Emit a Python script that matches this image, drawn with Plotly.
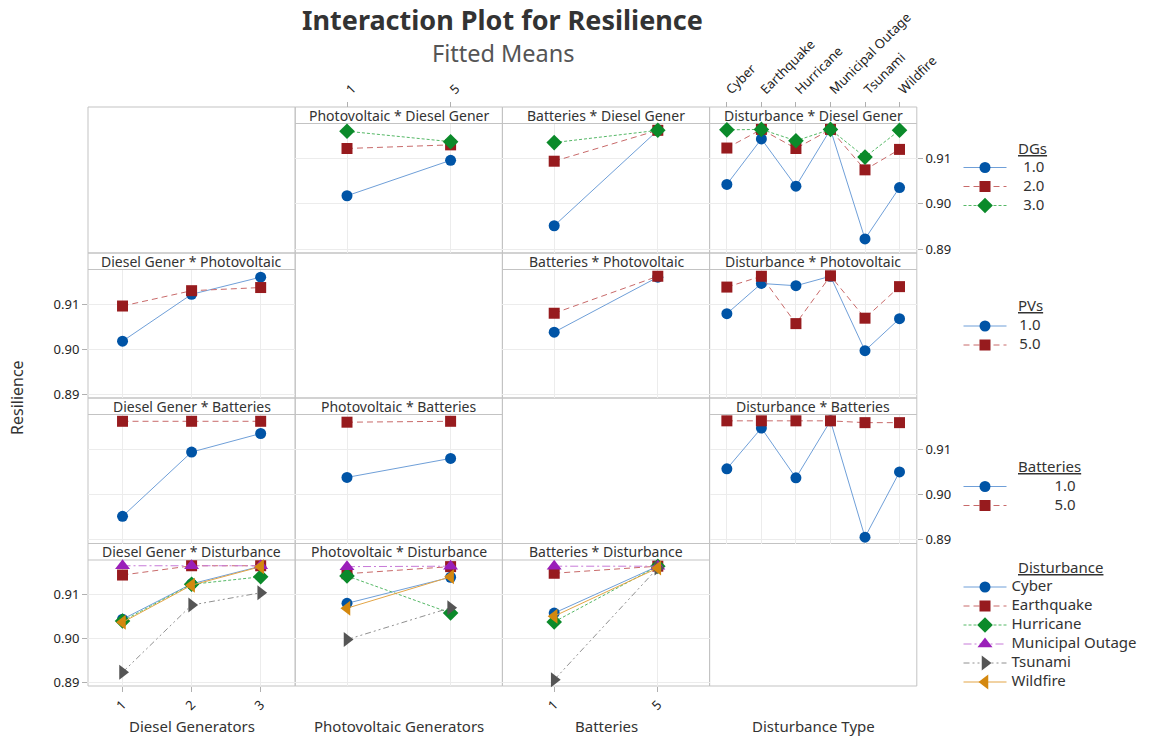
import plotly.graph_objects as go

W, H = 1153, 738
FONT = "Segoe UI, Noto Sans, sans-serif"

# ---- factor levels -------------------------------------------------------
DG_LEVELS = ["1", "2", "3"]
PV_LEVELS = ["1", "5"]
BAT_LEVELS = ["1", "5"]
DISTURBANCES = ["Cyber", "Earthquake", "Hurricane", "Municipal Outage", "Tsunami", "Wildfire"]

DG_NAMES = ["1.0", "2.0", "3.0"]
PV_NAMES = ["1.0", "5.0"]
BAT_NAMES = ["1.0", "5.0"]

# ---- fitted means of Resilience for each two-way combination -------------
# rows: DG level, columns: PV level
DG_PV = [[0.9018, 0.9096],
         [0.9122, 0.9130],
         [0.9160, 0.9137]]
# rows: DG level, columns: battery level
DG_BAT = [[0.8952, 0.9162],
          [0.9094, 0.9162],
          [0.9135, 0.9162]]
# rows: PV level, columns: battery level
PV_BAT = [[0.9038, 0.9160],
          [0.9080, 0.9162]]
# rows: disturbance, columns: DG level
DIST_DG = [[0.9043, 0.9123, 0.9163],
           [0.9143, 0.9164, 0.9164],
           [0.9039, 0.9122, 0.9139],
           [0.9164, 0.9164, 0.9164],
           [0.8923, 0.9075, 0.9103],
           [0.9036, 0.9120, 0.9162]]
# rows: disturbance, columns: PV level
DIST_PV = [[0.9079, 0.9138],
           [0.9146, 0.9162],
           [0.9141, 0.9057],
           [0.9162, 0.9163],
           [0.8997, 0.9069],
           [0.9068, 0.9139]]
# rows: disturbance, columns: battery level
DIST_BAT = [[0.9057, 0.9163],
            [0.9147, 0.9163],
            [0.9037, 0.9163],
            [0.9163, 0.9163],
            [0.8906, 0.9159],
            [0.9050, 0.9159]]

Y_TICKS = [0.89, 0.90, 0.91]
Y_RANGE = [0.8892, 0.9177]

# ---- series styles (level 1, 2, 3, ...) -----------------------------------
STYLES = [
    dict(marker="#0054A6", line="#6F9FD8", dash="solid", symbol="circle", size=11),
    dict(marker="#971B1E", line="#C86A6A", dash="6px,4px", symbol="square", size=11),
    dict(marker="#0B8A2A", line="#55B866", dash="3px,2px", symbol="diamond", size=12),
    dict(marker="#9A1FB9", line="#C77AD8", dash="8px,3px,2px,3px", symbol="triangle-up", size=13),
    dict(marker="#555555", line="#909090", dash="6px,3px,2px,3px,2px,3px", symbol="triangle-right", size=13),
    dict(marker="#D4880F", line="#E3A546", dash="solid", symbol="triangle-left", size=13),
]

# ---- grid geometry (pixels) ----------------------------------------------
X_EDGES = [88, 295.2, 502.4, 709.6, 916.8]
Y_EDGES = [107, 253, 398, 543.5, 686]
STRIP = 16.5
BORDER = "#c3c3c3"
GRID = "#ececec"


def px(x):
    return x / W


def py(y):
    return 1 - y / H


def columns(table):
    return [list(c) for c in zip(*table)]


def legend_label(text, pad=0):
    return '<span style="font-size:15px">' + "\u00a0" * pad + text + "</span>"


# (row, col, strip title, x categories, series values, legend id, legend names)
PANELS = [
    (0, 1, "Photovoltaic * Diesel Gener", PV_LEVELS, DG_PV, None, None),
    (0, 2, "Batteries * Diesel Gener", BAT_LEVELS, DG_BAT, None, None),
    (0, 3, "Disturbance * Diesel Gener", DISTURBANCES, columns(DIST_DG), "legend",
     [legend_label(n, 3) for n in DG_NAMES]),
    (1, 0, "Diesel Gener * Photovoltaic", DG_LEVELS, columns(DG_PV), None, None),
    (1, 2, "Batteries * Photovoltaic", BAT_LEVELS, PV_BAT, None, None),
    (1, 3, "Disturbance * Photovoltaic", DISTURBANCES, columns(DIST_PV), "legend2",
     [legend_label(n, 2) for n in PV_NAMES]),
    (2, 0, "Diesel Gener * Batteries", DG_LEVELS, columns(DG_BAT), None, None),
    (2, 1, "Photovoltaic * Batteries", PV_LEVELS, columns(PV_BAT), None, None),
    (2, 3, "Disturbance * Batteries", DISTURBANCES, columns(DIST_BAT), "legend3",
     [legend_label(n, 11) for n in BAT_NAMES]),
    (3, 0, "Diesel Gener * Disturbance", DG_LEVELS, DIST_DG, "legend4",
     [legend_label(n) for n in DISTURBANCES]),
    (3, 1, "Photovoltaic * Disturbance", PV_LEVELS, DIST_PV, None, None),
    (3, 2, "Batteries * Disturbance", BAT_LEVELS, DIST_BAT, None, None),
]

# which panels carry the tick labels of each column / row
X_LABELLED = {(3, 0): "bottom", (0, 1): "top", (3, 2): "bottom", (0, 3): "top"}
Y_LABELLED = {(0, 3): "right", (1, 0): "left", (2, 3): "right", (3, 0): "left"}

fig = go.Figure()
layout = {}
shapes = []
annotations = []

tick_font = dict(family=FONT, size=13, color="#1e1e1e")

for k, (r, c, title, cats, series, legend_id, names) in enumerate(PANELS, start=1):
    xa, ya = f"x{k}", f"y{k}"
    x0, x1 = X_EDGES[c], X_EDGES[c + 1]
    top, bottom = Y_EDGES[r], Y_EDGES[r + 1]

    xside = X_LABELLED.get((r, c))
    xaxis = dict(
        type="category", categoryorder="array", categoryarray=cats,
        range=[-0.5, len(cats) - 0.5],
        domain=[px(x0), px(x1)], anchor=ya, automargin=False,
        showgrid=True, gridcolor=GRID, gridwidth=1,
        showline=False, zeroline=False, fixedrange=True,
        showticklabels=False, ticks="",
    )
    if xside:
        xaxis.update(showticklabels=True, ticks="outside", ticklen=5, tickcolor="#b0b0b0",
                     tickangle=-45, tickfont=tick_font, side=xside)
        if xside == "top":
            xaxis.update(anchor="free", position=py(top))
    layout["xaxis" + ("" if k == 1 else str(k))] = xaxis

    yside = Y_LABELLED.get((r, c))
    yaxis = dict(
        range=Y_RANGE, tickvals=Y_TICKS, ticktext=[f"{v:.2f}" for v in Y_TICKS],
        domain=[py(bottom), py(top + STRIP)], anchor=xa, automargin=False,
        showgrid=True, gridcolor=GRID, gridwidth=1,
        showline=False, zeroline=False, fixedrange=True,
        showticklabels=False, ticks="",
    )
    if yside:
        yaxis.update(showticklabels=True, ticks="outside", ticklen=5, tickcolor="#b0b0b0",
                     tickfont=tick_font, side=yside)
    layout["yaxis" + ("" if k == 1 else str(k))] = yaxis

    for i, vals in enumerate(series):
        st = STYLES[i]
        fig.add_trace(go.Scatter(
            x=cats, y=vals, xaxis=xa, yaxis=ya, mode="lines+markers",
            line=dict(color=st["line"], width=1, dash=st["dash"]),
            marker=dict(color=st["marker"], symbol=st["symbol"], size=st["size"],
                        line=dict(width=0)),
            cliponaxis=False, hoverinfo="skip",
            name=names[i] if names else "",
            showlegend=legend_id is not None,
            legend=legend_id if legend_id else "legend",
        ))

    # strip with the panel title
    shapes.append(dict(type="line", xref="paper", yref="paper",
                       x0=px(x0), x1=px(x1), y0=py(top + STRIP), y1=py(top + STRIP),
                       line=dict(color=BORDER, width=1), layer="between"))
    annotations.append(dict(text=title, xref="paper", yref="paper",
                            x=px((x0 + x1) / 2), y=py(top + STRIP / 2),
                            xanchor="center", yanchor="middle", showarrow=False,
                            font=dict(family=FONT, size=14, color="#333333")))

# borders of every cell in the 4x4 matrix
for r in range(4):
    for c in range(4):
        shapes.append(dict(type="rect", xref="paper", yref="paper",
                           x0=px(X_EDGES[c]), x1=px(X_EDGES[c + 1]),
                           y0=py(Y_EDGES[r + 1]), y1=py(Y_EDGES[r]),
                           line=dict(color=BORDER, width=1), layer="between"))

# axis titles
AXIS_TITLES = ["Diesel Generators", "Photovoltaic Generators", "Batteries", "Disturbance Type"]
for c, t in enumerate(AXIS_TITLES):
    annotations.append(dict(text=t, xref="paper", yref="paper",
                            x=px((X_EDGES[c] + X_EDGES[c + 1]) / 2), y=py(726),
                            xanchor="center", yanchor="middle", showarrow=False,
                            font=dict(family=FONT, size=15, color="#333333")))
annotations.append(dict(text="Resilience", xref="paper", yref="paper",
                        x=px(17), y=py(398), textangle=-90,
                        xanchor="center", yanchor="middle", showarrow=False,
                        font=dict(family=FONT, size=16, color="#333333")))

# chart title and subtitle
annotations.append(dict(text="<b>Interaction Plot for Resilience</b>", xref="paper", yref="paper",
                        x=px(502), y=py(19.5), xanchor="center", yanchor="middle", showarrow=False,
                        font=dict(family=FONT, size=27, color="#333333")))
annotations.append(dict(text="Fitted Means", xref="paper", yref="paper",
                        x=px(503), y=py(52.5), xanchor="center", yanchor="middle", showarrow=False,
                        font=dict(family=FONT, size=23.5, color="#555555")))

# legend headings
LEGEND_TITLES = [("DGs", 147.5), ("PVs", 305.5), ("Batteries", 465.5), ("Disturbance", 566.5)]
for t, yy in LEGEND_TITLES:
    annotations.append(dict(text=f"<u>{t}</u>", xref="paper", yref="paper",
                            x=px(1016), y=py(yy), xanchor="left", yanchor="middle",
                            showarrow=False,
                            font=dict(family=FONT, size=15, color="#333333")))

legend_common = dict(xanchor="left", yanchor="top", bgcolor="rgba(0,0,0,0)",
                     borderwidth=0, font=dict(family=FONT, size=11, color="#333333"),
                     itemwidth=43, itemclick=False, itemdoubleclick=False, tracegroupgap=0)
layout["legend"] = dict(x=px(958.5), y=py(153), **legend_common)
layout["legend2"] = dict(x=px(958.5), y=py(311.5), **legend_common)
layout["legend3"] = dict(x=px(958.5), y=py(472), **legend_common)
layout["legend4"] = dict(x=px(958.5), y=py(572.5), **legend_common)

fig.update_layout(
    width=W, height=H, margin=dict(l=0, r=0, t=0, b=0, autoexpand=False),
    paper_bgcolor="white", plot_bgcolor="white",
    shapes=shapes, annotations=annotations,
    font=dict(family=FONT, color="#333333"),
    **layout,
)

fig.write_html("out.html", config={"displayModeBar": False})
